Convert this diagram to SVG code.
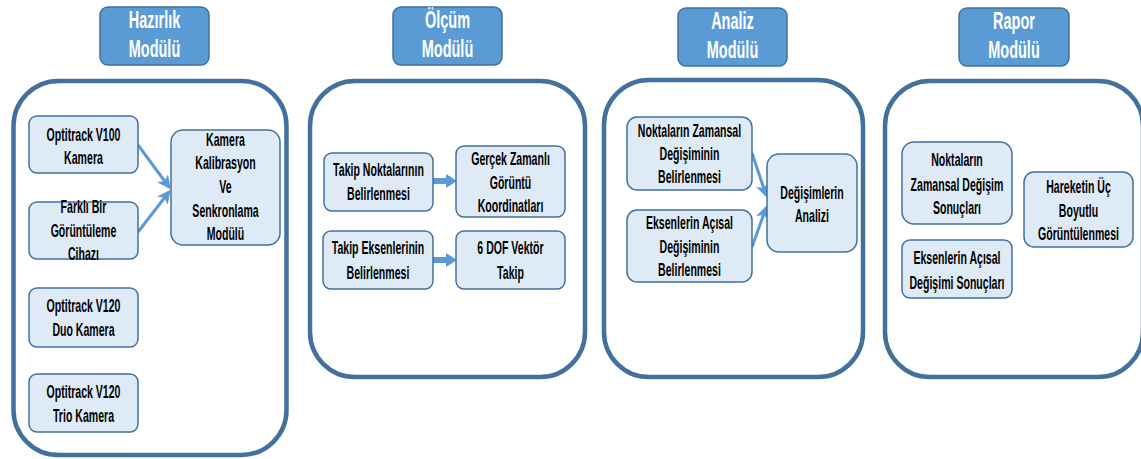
<svg xmlns="http://www.w3.org/2000/svg" width="1141" height="459" viewBox="0 0 1141 459">
<defs>
<style>
.hdr{fill:#5b9bd5;stroke:#41719c;stroke-width:1.5}
.cont{fill:#fff;stroke:#41719c;stroke-width:4.5}
.node{fill:#deebf7;stroke:#41719c;stroke-width:1.5}
.ht{font-family:"Liberation Sans",Arial,sans-serif;font-weight:bold;font-size:23px;fill:#fff;text-anchor:middle}
.nt{font-family:"Liberation Sans",Arial,sans-serif;font-weight:bold;font-size:18px;fill:#000;text-anchor:middle}
.ln{stroke:#5b9bd5;stroke-width:3;fill:none;marker-end:url(#ah)}
.blk{fill:#5b9bd5}
</style>
<marker id="ah" viewBox="0 0 10 10" refX="8" refY="5" markerWidth="4.5" markerHeight="4.5" orient="auto" markerUnits="strokeWidth">
<path d="M0,0 L10,5 L0,10 L2.5,5 z" fill="#5b9bd5"/>
</marker>
</defs>

<g id="containers">
<rect class="cont" x="13.5" y="81" width="273" height="374" rx="45"/>
<rect class="cont" x="310" y="81" width="275" height="296" rx="45"/>
<rect class="cont" x="604" y="80" width="259" height="297" rx="45"/>
<rect class="cont" x="885" y="81" width="258" height="296" rx="45"/>
</g>

<g id="header-hazirlik">
<rect class="hdr" x="100" y="7" width="109" height="58" rx="8"/>
<text class="ht" transform="scale(0.63 1)"><tspan x="245.24" y="28">Hazırlık</tspan><tspan x="245.24" y="57">Modülü</tspan></text>
</g>
<g id="header-olcum">
<rect class="hdr" x="393" y="7" width="109" height="58" rx="8"/>
<text class="ht" transform="scale(0.63 1)"><tspan x="710.32" y="28">Ölçüm</tspan><tspan x="710.32" y="57">Modülü</tspan></text>
</g>
<g id="header-analiz">
<rect class="hdr" x="678" y="8" width="109" height="58" rx="8"/>
<text class="ht" transform="scale(0.63 1)"><tspan x="1162.70" y="29">Analiz</tspan><tspan x="1162.70" y="58">Modülü</tspan></text>
</g>
<g id="header-rapor">
<rect class="hdr" x="959" y="8" width="110" height="58" rx="8"/>
<text class="ht" transform="scale(0.63 1)"><tspan x="1609.52" y="29">Rapor</tspan><tspan x="1609.52" y="58">Modülü</tspan></text>
</g>

<g id="connectors">
<line class="ln" x1="138" y1="145" x2="169" y2="187"/>
<line class="ln" x1="138" y1="232" x2="169" y2="192"/>
<path class="blk" d="M433,178 L446,178 L446,174 L457,181 L446,188 L446,184 L433,184 z"/>
<path class="blk" d="M433,257 L446,257 L446,253 L457,260 L446,267 L446,263 L433,263 z"/>
<line class="ln" x1="752" y1="153" x2="766" y2="195"/>
<line class="ln" x1="752" y1="247" x2="766" y2="208"/>
</g>

<g id="n-v100">
<rect class="node" x="29" y="116" width="109" height="57" rx="8"/>
<text class="nt" transform="scale(0.587 1)"><tspan x="142.25" y="141">Optitrack V100</tspan><tspan x="142.25" y="164">Kamera</tspan></text>
</g>
<g id="n-farkli">
<rect class="node" x="29" y="202" width="109" height="57" rx="8"/>
<text class="nt" transform="scale(0.587 1)"><tspan x="142.25" y="213">Farklı Bir</tspan><tspan x="142.25" y="237">Görüntüleme</tspan><tspan x="142.25" y="260">Cihazı</tspan></text>
</g>
<g id="n-kalibrasyon">
<rect class="node" x="171" y="130" width="109" height="115" rx="12"/>
<text class="nt" transform="scale(0.587 1)"><tspan x="384.16" y="146">Kamera</tspan><tspan x="384.16" y="169">Kalibrasyon</tspan><tspan x="384.16" y="193">Ve</tspan><tspan x="384.16" y="217">Senkronlama</tspan><tspan x="384.16" y="240">Modülü</tspan></text>
</g>
<g id="n-v120duo">
<rect class="node" x="29" y="288" width="109" height="59" rx="8"/>
<text class="nt" transform="scale(0.587 1)"><tspan x="142.25" y="312">Optitrack V120</tspan><tspan x="142.25" y="336">Duo Kamera</tspan></text>
</g>
<g id="n-v120trio">
<rect class="node" x="29" y="374" width="109" height="58" rx="8"/>
<text class="nt" transform="scale(0.587 1)"><tspan x="142.25" y="398">Optitrack V120</tspan><tspan x="142.25" y="422">Trio Kamera</tspan></text>
</g>

<g id="n-takip-nokta">
<rect class="node" x="324" y="153" width="109" height="58" rx="8"/>
<text class="nt" transform="scale(0.587 1)"><tspan x="644.80" y="176">Takip Noktalarının</tspan><tspan x="644.80" y="200">Belirlenmesi</tspan></text>
</g>
<g id="n-gercek">
<rect class="node" x="456" y="146" width="109" height="71" rx="8"/>
<text class="nt" transform="scale(0.587 1)"><tspan x="869.68" y="165">Gerçek Zamanlı</tspan><tspan x="869.68" y="189">Görüntü</tspan><tspan x="869.68" y="212">Koordinatları</tspan></text>
</g>
<g id="n-takip-eksen">
<rect class="node" x="323" y="231" width="110" height="58" rx="8"/>
<text class="nt" transform="scale(0.587 1)"><tspan x="643.95" y="254">Takip Eksenlerinin</tspan><tspan x="643.95" y="279">Belirlenmesi</tspan></text>
</g>
<g id="n-6dof">
<rect class="node" x="456" y="231" width="109" height="58" rx="8"/>
<text class="nt" transform="scale(0.587 1)"><tspan x="869.68" y="254">6 DOF Vektör</tspan><tspan x="869.68" y="279">Takip</tspan></text>
</g>

<g id="n-nokta-zaman">
<rect class="node" x="627" y="117" width="125" height="73" rx="10"/>
<text class="nt" transform="scale(0.587 1)"><tspan x="1174.62" y="137">Noktaların Zamansal</tspan><tspan x="1174.62" y="160">Değişiminin</tspan><tspan x="1174.62" y="183">Belirlenmesi</tspan></text>
</g>
<g id="n-eksen-aci">
<rect class="node" x="627" y="210" width="125" height="72" rx="10"/>
<text class="nt" transform="scale(0.587 1)"><tspan x="1174.62" y="229">Eksenlerin Açısal</tspan><tspan x="1174.62" y="253">Değişiminin</tspan><tspan x="1174.62" y="276">Belirlenmesi</tspan></text>
</g>
<g id="n-analizi">
<rect class="node" x="767" y="154" width="90" height="98" rx="12"/>
<text class="nt" transform="scale(0.587 1)"><tspan x="1383.30" y="199">Değişimlerin</tspan><tspan x="1383.30" y="222">Analizi</tspan></text>
</g>

<g id="n-nokta-sonuc">
<rect class="node" x="902" y="142" width="110" height="82" rx="12"/>
<text class="nt" transform="scale(0.587 1)"><tspan x="1630.32" y="166">Noktaların</tspan><tspan x="1630.32" y="191">Zamansal Değişim</tspan><tspan x="1630.32" y="214">Sonuçları</tspan></text>
</g>
<g id="n-eksen-sonuc">
<rect class="node" x="902" y="240" width="110" height="58" rx="8"/>
<text class="nt" transform="scale(0.587 1)"><tspan x="1630.32" y="264">Eksenlerin Açısal</tspan><tspan x="1630.32" y="289">Değişimi Sonuçları</tspan></text>
</g>
<g id="n-hareket">
<rect class="node" x="1024" y="172" width="109" height="75" rx="10"/>
<text class="nt" transform="scale(0.587 1)"><tspan x="1837.31" y="193">Hareketin Üç</tspan><tspan x="1837.31" y="217">Boyutlu</tspan><tspan x="1837.31" y="240">Görüntülenmesi</tspan></text>
</g>
</svg>
